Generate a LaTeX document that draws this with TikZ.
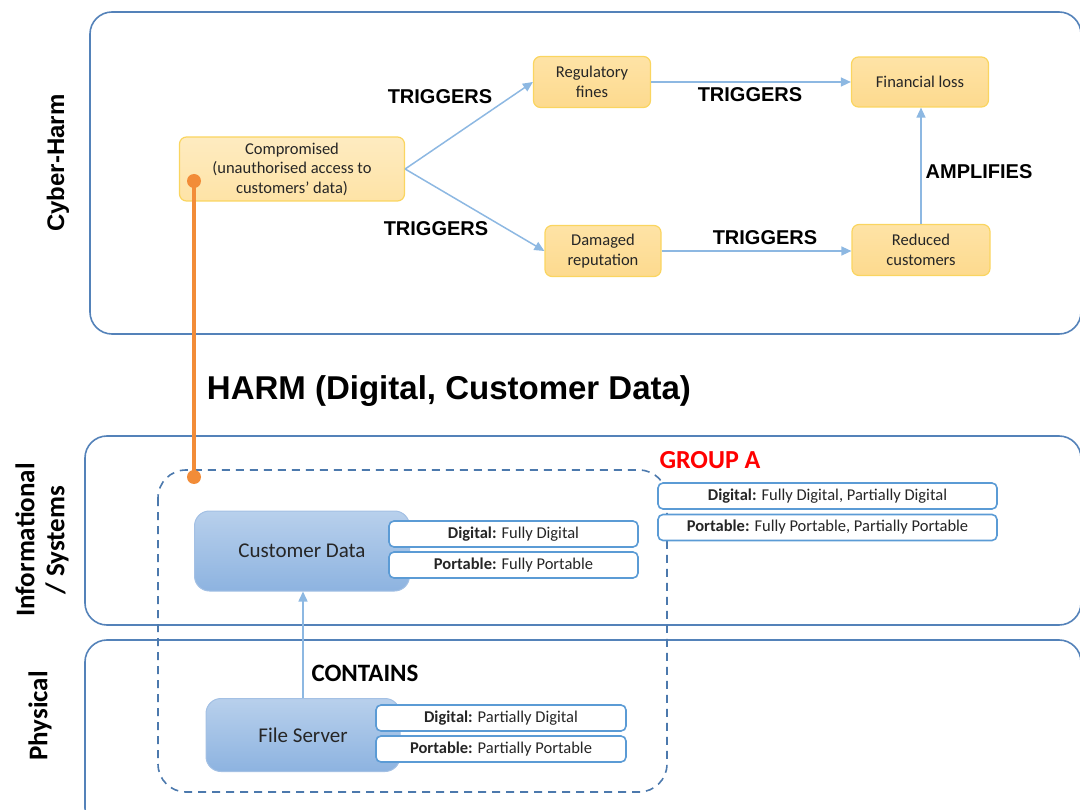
\documentclass[tikz,border=0pt]{standalone}
\usepackage{fontspec}
\setmainfont{Carlito}
\newfontfamily\arial{Liberation Sans}
\usetikzlibrary{arrows.meta}

\definecolor{panelblue}{HTML}{5482B9}
\definecolor{edgeblue}{HTML}{8DB8E2}
\definecolor{harmfill}{HTML}{FDDA8E}
\definecolor{harmtop}{HTML}{FEE3A6}
\definecolor{harmline}{HTML}{FAD560}
\definecolor{assettop}{HTML}{B8D0EC}
\definecolor{assetbot}{HTML}{8DB3E0}
\definecolor{assetline}{HTML}{A3C0E4}
\definecolor{attrline}{HTML}{5B9BD5}
\definecolor{groupline}{HTML}{4C79AD}
\definecolor{linkorange}{HTML}{F28C38}

\tikzset{
  panel/.style={draw=panelblue, line width=1.6pt, rounded corners=22pt},
  harmbox/.style={draw=harmline, line width=1.2pt, rounded corners=7pt,
    top color=harmtop, bottom color=harmfill, align=center, inner sep=0pt,
    font=\fontsize{16.5}{19.5}\selectfont, text=black!85},
  assetbox/.style={draw=assetline, line width=1pt, rounded corners=15pt,
    top color=assettop, bottom color=assetbot, inner sep=0pt,
    font=\fontsize{21}{25}\selectfont, text=black!85},
  attrbox/.style={draw=attrline, line width=1.6pt, rounded corners=5pt,
    fill=white, inner sep=0pt, minimum height=26pt,
    font=\fontsize{16.5}{19}\selectfont, text=black!85},
  flow/.style={draw=edgeblue, line width=1.5pt,
    -{Triangle[length=10pt,width=9pt]}},
  rel/.style={font=\arial\bfseries\fontsize{20}{24}\selectfont},
  layer/.style={rotate=90, align=center, font=\bfseries\fontsize{27}{30}\selectfont},
  linkdot/.style={circle, fill=linkorange, inner sep=0pt, minimum size=14pt},
  group/.style={draw=groupline, line width=1.6pt, rounded corners=28pt,
    dash pattern=on 8pt off 6pt},
}

\begin{document}
\begin{tikzpicture}[x=1pt, y=-1pt]
\useasboundingbox (0,0) rectangle (1080,810);

% layers
\draw[panel] (90,12) rectangle (1081,334);
\draw[panel] (85,436) rectangle (1081,625);
\draw[panel] (85,640) rectangle (1081,830);

\node[layer, font=\arial\bfseries\fontsize{24}{28}\selectfont] (lcyber) at (58,163) {Cyber-Harm};
\node[layer] (linfo) at (42,540) {Informational\\/ Systems};
\node[layer] (lphys) at (40,716) {Physical};

% grouping of assets
\draw[group] (158,470) rectangle (667,792);
\node[font=\bfseries\fontsize{26}{30}\selectfont, text=red] (grp) at (710,460) {GROUP A};

% cyber-harm chain
\node[harmbox, minimum width=225pt, minimum height=64pt,
  top color=harmtop!70!white, bottom color=harmtop] (comp) at (292,169)
  {Compromised\\(unauthorised access to\\customers' data)};
\node[harmbox, minimum width=117pt, minimum height=51pt] (fines) at (592,82) {Regulatory\\fines};
\node[harmbox, minimum width=137pt, minimum height=50pt] (loss) at (920,82) {Financial loss};
\node[harmbox, minimum width=116pt, minimum height=51pt] (rep) at (603,251) {Damaged\\reputation};
\node[harmbox, minimum width=138pt, minimum height=51pt] (cust) at (921,250) {Reduced\\customers};

\draw[flow] (comp.east) -- (fines.west);
\draw[flow] (comp.east) -- (rep.west);
\draw[flow] (fines.east) -- (loss.west |- fines.east);
\draw[flow] (rep.east) -- (cust.west |- rep.east);
\draw[flow] (cust.north) -- (cust.north |- loss.south);

\node[rel] (t1) at (440,97) {TRIGGERS};
\node[rel] (t2) at (436,229) {TRIGGERS};
\node[rel] (t3) at (750,95) {TRIGGERS};
\node[rel] (t4) at (765,238) {TRIGGERS};
\node[rel] (amp) at (979,172) {AMPLIFIES};

% assets
\node[assetbox, minimum width=215pt, minimum height=80pt] (cd) at (302,551) {Customer Data};
\node[assetbox, minimum width=194pt, minimum height=73pt] (fs) at (303,735) {File Server};

\node[attrbox, minimum width=249pt] (cddig) at (513.5,534) {\textbf{Digital:} Fully Digital};
\node[attrbox, minimum width=249pt] (cdport) at (513.5,565) {\textbf{Portable:} Fully Portable};
\node[attrbox, minimum width=250pt] (fsdig) at (501,718) {\textbf{Digital:} Partially Digital};
\node[attrbox, minimum width=250pt] (fsport) at (501,749) {\textbf{Portable:} Partially Portable};
\node[attrbox, minimum width=339pt] (gdig) at (827.5,496) {\textbf{Digital:} Fully Digital, Partially Digital};
\node[attrbox, minimum width=339pt] (gport) at (827.5,527.5) {\textbf{Portable:} Fully Portable, Partially Portable};

\draw[flow] (fs.north) -- (fs.north |- cd.south);
\node[font=\bfseries\fontsize{25}{28}\selectfont] (contains) at (365,673) {CONTAINS};

% harm link between layers
\node[linkdot] (d1) at (194,181) {};
\node[linkdot] (d2) at (194,477) {};
\draw[draw=linkorange, line width=4.5pt] (d1.center) -- (d2.center);
\node[font=\arial\bfseries\fontsize{33}{38}\selectfont] (harm) at (449,391) {HARM (Digital, Customer Data)};
\end{tikzpicture}
\end{document}
